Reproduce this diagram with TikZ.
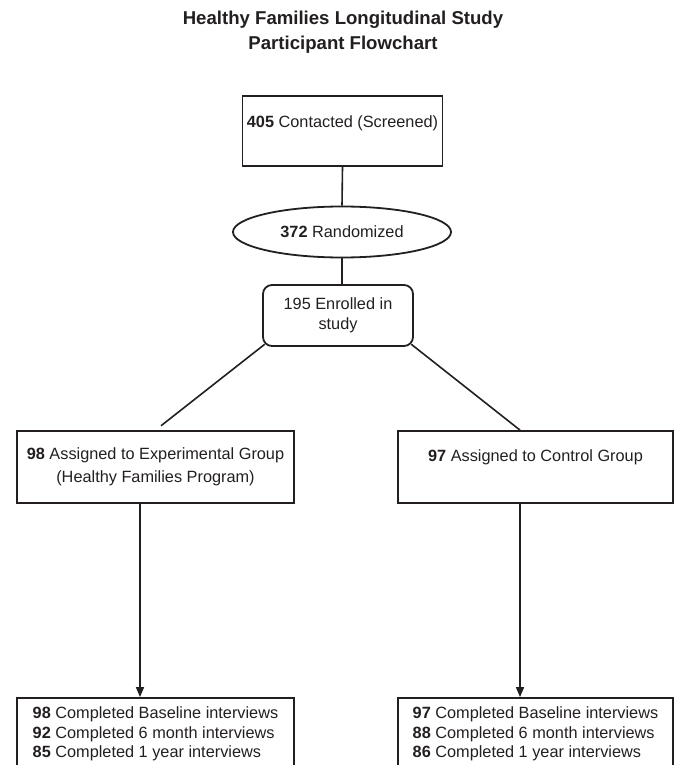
\documentclass[tikz,border=0pt]{standalone}
\usepackage{fontspec}
\setmainfont{Liberation Sans}
\usetikzlibrary{shapes.geometric,arrows.meta}
\definecolor{ink}{HTML}{231F20}

\tikzstyle{box}=[draw=ink,line width=1.8pt,rectangle,inner sep=0pt,align=center,text=ink]
\tikzstyle{oval}=[draw=ink,line width=1.8pt,ellipse,inner sep=0pt,text=ink]
\tikzstyle{roundbox}=[box,rounded corners=9pt]
\tikzstyle{link}=[draw=ink,line width=1.6pt]
\tikzstyle{arrow link}=[link,-{Triangle[length=10pt,width=8pt]}]

\begin{document}
\begin{tikzpicture}[x=1pt,y=-1pt,font=\fontsize{16.3}{19.5}\selectfont]
			\clip (0,0) rectangle (675,765);
			% Title
			\node[align=center,text=ink,font=\fontsize{18.6}{25}\selectfont\bfseries] (title) at (343,32.5) {Healthy Families Longitudinal Study\\Participant Flowchart};
			% Boxes of the flow
			\node[box,minimum width=200pt,minimum height=70pt] (contact) at (342.5,131) {\textbf{405} Contacted (Screened)\\\mbox{}};
			\node[oval,minimum width=218pt,minimum height=51pt] (rand) at (342,232) {\textbf{372} Randomized};
			\node[roundbox,minimum width=150pt,minimum height=61pt] (enrolled) at (338,315.5) {195 Enrolled in\\study};
			\node[box,minimum width=277pt,minimum height=72pt] (exp) at (155.5,467) {\textbf{98} Assigned to Experimental Group\\[3pt](Healthy Families Program)};
			\node[box,minimum width=275pt,minimum height=72pt] (ctrl) at (535.5,467) {\textbf{97} Assigned to Control Group\\[3pt]\mbox{}};
			\node[box,align=left,minimum width=277pt,minimum height=72pt] (expdone) at (155.5,734) {\textbf{98} Completed Baseline interviews\\\textbf{92} Completed 6 month interviews\\\textbf{85} Completed 1 year interviews};
			\node[box,align=left,minimum width=275pt,minimum height=72pt] (ctrldone) at (535.5,734) {\textbf{97} Completed Baseline interviews\\\textbf{88} Completed 6 month interviews\\\textbf{86} Completed 1 year interviews};
			% Connect the boxes
			\path[link] (contact.south) -- (rand.north);
			\path[link] (rand.south) -- (rand.south |- enrolled.north);
			\path[link,shorten >=7pt] ([shift={(2.6,-2.6)}]enrolled.south west) -- (exp.north);
			\path[link] ([shift={(-2.6,-2.6)}]enrolled.south east) -- ([xshift=-15.5pt]ctrl.north);
			\foreach \source/ \dest in {exp/expdone, ctrl/ctrldone}
				\path[arrow link] ([xshift=-15.5pt]\source.south) -- ([xshift=-15.5pt]\dest.north);
\end{tikzpicture}
\end{document}
